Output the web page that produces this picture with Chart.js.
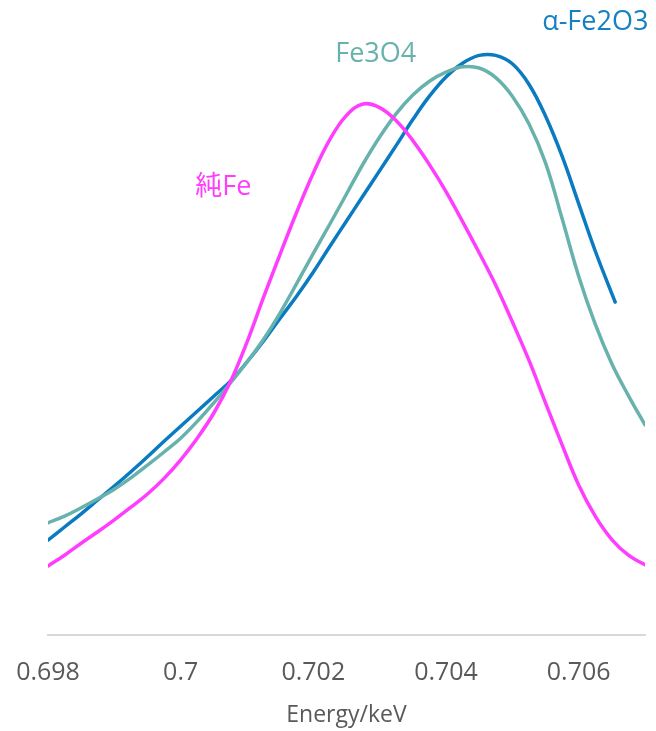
<!DOCTYPE html>
<html>
<head>
<meta charset="utf-8">
<title>Fe L-edge spectra</title>
<script src="https://cdn.jsdelivr.net/npm/chart.js@4.4.0/dist/chart.umd.js"></script>
<style>
  html, body { margin: 0; padding: 0; background: #fff; }
  #wrap { width: 656px; height: 731px; }
</style>
</head>
<body>
<div id="wrap"><canvas id="spectra" width="656" height="731"></canvas></div>
<script>
// energy grid (keV) shared by pure Fe and Fe3O4
const energyGrid = [
  0.698, 0.69825, 0.6985, 0.69875, 0.699, 0.69925, 0.6995, 0.69975,
  0.700, 0.70025, 0.7005, 0.70075, 0.701, 0.70125, 0.7015, 0.70175,
  0.702, 0.70225, 0.7025, 0.70275, 0.703, 0.70325, 0.7035, 0.70375,
  0.704, 0.70425, 0.7045, 0.70475, 0.705, 0.70525, 0.7055, 0.70575,
  0.706, 0.70625, 0.7065, 0.70675, 0.707
];
// α-Fe2O3 was measured up to 0.70655 keV only
const energyHematite = [
  0.698, 0.69825, 0.6985, 0.69875, 0.699, 0.69925, 0.6995, 0.69975,
  0.700, 0.70025, 0.7005, 0.70075, 0.701, 0.70125, 0.7015, 0.70175,
  0.702, 0.70225, 0.7025, 0.70275, 0.703, 0.70325, 0.7035, 0.70375,
  0.704, 0.70425, 0.7045, 0.70475, 0.705, 0.70525, 0.7055, 0.70575,
  0.706, 0.70625, 0.70655
];

// normalised intensity (a.u.)
const pureFe = [
  11.5, 13.3, 15.3, 17.2, 19.2, 21.3, 23.5, 26.1,
  29.2, 32.8, 37.0, 42.2, 48.8, 56.3, 63.5, 70.5,
  77.0, 82.6, 86.6, 88.5, 87.9, 85.7, 82.4, 78.4,
  73.9, 68.9, 63.7, 58.3, 52.2, 45.8, 38.7, 31.7,
  25.0, 19.8, 15.9, 13.3, 11.7
];
const magnetite = [
  18.7, 19.8, 21.2, 22.7, 24.3, 26.2, 28.3, 30.5,
  32.8, 35.6, 38.7, 42.0, 45.5, 49.3, 53.7, 58.6,
  63.6, 68.5, 73.5, 78.5, 83.0, 86.9, 90.0, 92.3,
  93.8, 94.7, 94.5, 92.9, 89.8, 85.2, 78.7, 69.4,
  59.8, 51.8, 45.2, 39.9, 35.0
];
const hematite = [
  15.8, 18.0, 20.2, 22.5, 24.8, 27.2, 29.7, 32.3,
  34.8, 37.3, 39.8, 42.3, 45.5, 49.0, 52.8, 56.5,
  60.5, 64.8, 69.0, 73.2, 77.4, 81.6, 85.9, 89.8,
  93.0, 95.3, 96.6, 96.6, 95.2, 91.8, 86.5, 79.8,
  71.9, 64.0, 55.5
];

const seriesNames = ['純Fe', 'Fe3O4', 'α-Fe2O3'];
const tickValues = [0.698, 0.7, 0.702, 0.704, 0.706];

const FONT = '"Open Sans", "Noto Sans CJK JP", sans-serif';

function points(xs, ys) {
  return xs.map((x, i) => ({ x: x, y: ys[i] }));
}

// writes each series name next to its curve, anchored in data units
const seriesTags = {
  id: 'seriesTags',
  afterDatasetsDraw(chart) {
    const { ctx, scales: { x, y } } = chart;
    ctx.save();
    ctx.font = '27px ' + FONT;
    ctx.textBaseline = 'alphabetic';
    chart.data.datasets.forEach(ds => {
      const t = ds.tag;
      ctx.fillStyle = t.color;
      ctx.textAlign = t.align;
      ctx.fillText(ds.label, x.getPixelForValue(t.x), y.getPixelForValue(t.y));
    });
    ctx.restore();
  }
};

const common = {
  borderWidth: 3.5,
  borderCapStyle: 'round',
  pointRadius: 0,
  fill: false,
  tension: 0.4
};

new Chart(document.getElementById('spectra'), {
  type: 'line',
  data: {
    datasets: [
      Object.assign({
        label: seriesNames[0],
        data: points(energyGrid, pureFe),
        borderColor: '#FF3DFF',
        tag: { x: 0.70022, y: 73.3, align: 'left', color: '#FF3DFF' }
      }, common),
      Object.assign({
        label: seriesNames[1],
        data: points(energyGrid, magnetite),
        borderColor: '#68B2AD',
        tag: { x: 0.70233, y: 95.5, align: 'left', color: '#68B2AD' }
      }, common),
      Object.assign({
        label: seriesNames[2],
        data: points(energyHematite, hematite),
        borderColor: '#0A7BC0',
        tag: { x: 0.70705, y: 100.8, align: 'right', color: '#1580C2' }
      }, common)
    ]
  },
  options: {
    responsive: false,
    animation: false,
    devicePixelRatio: 1,
    layout: { padding: { left: 48, right: 11, top: 35, bottom: 0 } },
    plugins: {
      legend: { display: false },
      tooltip: { enabled: false }
    },
    scales: {
      x: {
        type: 'linear',
        min: 0.698,
        max: 0.707,
        // tick marks stay hidden, their length only pushes the labels down
        grid: { display: false, drawTicks: true, tickLength: 9 },
        border: { display: true, color: '#D9D9D9', width: 2 },
        afterBuildTicks(scale) {
          scale.ticks = tickValues.map(v => ({ value: v }));
        },
        afterFit(scale) {
          scale.height = 96;
        },
        ticks: {
          autoSkip: false,
          maxRotation: 0,
          padding: 14,
          color: '#595959',
          font: { family: FONT, size: 25 },
          callback: v => String(+v.toFixed(3))
        },
        title: {
          display: true,
          text: 'Energy/keV',
          color: '#595959',
          font: { family: FONT, size: 23 },
          padding: { top: 0, bottom: 2 }
        }
      },
      y: {
        display: false,
        min: 0,
        max: 100
      }
    }
  },
  plugins: [seriesTags]
});
</script>
</body>
</html>
